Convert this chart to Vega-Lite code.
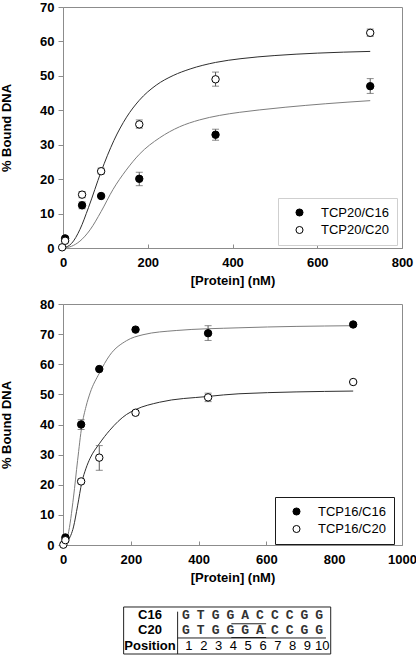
{
  "$schema": "https://vega.github.io/schema/vega-lite/v6.json",
  "padding": {"left": 0, "top": 0, "right": 0, "bottom": 0},
  "spacing": 9,
  "config": {
    "font": "Liberation Sans",
    "view": {"stroke": "#8c8c8c", "strokeWidth": 1},
    "axis": {
      "grid": false,
      "domainColor": "#8c8c8c",
      "tickColor": "#8c8c8c",
      "labelFont": "Liberation Sans",
      "labelFontSize": 13,
      "labelFontWeight": "bold",
      "labelColor": "#000000",
      "titleFont": "Liberation Sans",
      "titleFontSize": 13,
      "titleFontWeight": "bold",
      "titleColor": "#000000",
      "labelFlush": false,
      "labelOverlap": false
    },
    "axisX": {"tickSize": -4, "labelPadding": 12, "titlePadding": 5},
    "axisY": {"tickSize": 5, "labelPadding": 4, "titlePadding": 26},
    "legend": {
      "padding": 8,
      "symbolType": "circle",
      "symbolSize": 50,
      "symbolStrokeColor": "#000000",
      "symbolStrokeWidth": 1,
      "symbolOffset": 7,
      "labelOffset": 15,
      "rowPadding": 3.5,
      "labelFont": "Liberation Sans",
      "labelFontSize": 13,
      "labelFontWeight": "normal",
      "labelColor": "#000000",
      "fillColor": "#ffffff"
    }
  },
  "datasets": {
    "top_curves": [
      {"series": "TCP20/C20", "x": 0, "y": 0},
      {"series": "TCP20/C20", "x": 20, "y": 1.3},
      {"series": "TCP20/C20", "x": 40, "y": 5.4},
      {"series": "TCP20/C20", "x": 60, "y": 11.7},
      {"series": "TCP20/C20", "x": 90, "y": 22.2},
      {"series": "TCP20/C20", "x": 120, "y": 31.2},
      {"series": "TCP20/C20", "x": 150, "y": 38.0},
      {"series": "TCP20/C20", "x": 180, "y": 42.9},
      {"series": "TCP20/C20", "x": 220, "y": 47.3},
      {"series": "TCP20/C20", "x": 260, "y": 50.1},
      {"series": "TCP20/C20", "x": 300, "y": 52.0},
      {"series": "TCP20/C20", "x": 360, "y": 53.9},
      {"series": "TCP20/C20", "x": 420, "y": 55.0},
      {"series": "TCP20/C20", "x": 500, "y": 55.9},
      {"series": "TCP20/C20", "x": 600, "y": 56.6},
      {"series": "TCP20/C20", "x": 725, "y": 57.1},
      {"series": "TCP20/C16", "x": 0, "y": 0},
      {"series": "TCP20/C16", "x": 20, "y": 0.5},
      {"series": "TCP20/C16", "x": 40, "y": 2.0},
      {"series": "TCP20/C16", "x": 64, "y": 5.3},
      {"series": "TCP20/C16", "x": 90, "y": 10.6},
      {"series": "TCP20/C16", "x": 118, "y": 17.0},
      {"series": "TCP20/C16", "x": 149, "y": 22.6},
      {"series": "TCP20/C16", "x": 180, "y": 27.2},
      {"series": "TCP20/C16", "x": 228, "y": 32.0},
      {"series": "TCP20/C16", "x": 275, "y": 35.2},
      {"series": "TCP20/C16", "x": 322, "y": 37.2},
      {"series": "TCP20/C16", "x": 369, "y": 38.5},
      {"series": "TCP20/C16", "x": 416, "y": 39.4},
      {"series": "TCP20/C16", "x": 463, "y": 40.1},
      {"series": "TCP20/C16", "x": 526, "y": 40.9},
      {"series": "TCP20/C16", "x": 620, "y": 41.9},
      {"series": "TCP20/C16", "x": 725, "y": 42.8}
    ],
    "top_points": [
      {"series": "TCP20/C16", "x": 5, "y": 2.8},
      {"series": "TCP20/C16", "x": 45, "y": 12.4},
      {"series": "TCP20/C16", "x": 90, "y": 15.1},
      {"series": "TCP20/C16", "x": 180, "y": 20.1},
      {"series": "TCP20/C16", "x": 360, "y": 32.9},
      {"series": "TCP20/C16", "x": 725, "y": 47.0},
      {"series": "TCP20/C20", "x": -2, "y": 0.2},
      {"series": "TCP20/C20", "x": 5, "y": 2.1},
      {"series": "TCP20/C20", "x": 45, "y": 15.5},
      {"series": "TCP20/C20", "x": 90, "y": 22.3},
      {"series": "TCP20/C20", "x": 180, "y": 35.9},
      {"series": "TCP20/C20", "x": 360, "y": 49.0},
      {"series": "TCP20/C20", "x": 725, "y": 62.5}
    ],
    "top_err": [
      {"x": 45, "lo": 11.4, "hi": 13.4},
      {"x": 180, "lo": 18.1, "hi": 22.0},
      {"x": 360, "lo": 31.3, "hi": 34.5},
      {"x": 725, "lo": 44.9, "hi": 49.2},
      {"x": 45, "lo": 14.6, "hi": 16.4},
      {"x": 90, "lo": 21.5, "hi": 23.2},
      {"x": 180, "lo": 34.8, "hi": 37.2},
      {"x": 360, "lo": 47.0, "hi": 51.1},
      {"x": 725, "lo": 61.5, "hi": 63.6}
    ],
    "bottom_curves": [
      {"series": "TCP16/C16", "x": 0, "y": 0},
      {"series": "TCP16/C16", "x": 15, "y": 3.5},
      {"series": "TCP16/C16", "x": 31, "y": 15.9},
      {"series": "TCP16/C16", "x": 43, "y": 28.0},
      {"series": "TCP16/C16", "x": 55.6, "y": 39.5},
      {"series": "TCP16/C16", "x": 68, "y": 46.0},
      {"series": "TCP16/C16", "x": 80, "y": 50.5},
      {"series": "TCP16/C16", "x": 107, "y": 57.0},
      {"series": "TCP16/C16", "x": 138, "y": 63.0},
      {"series": "TCP16/C16", "x": 187, "y": 67.8},
      {"series": "TCP16/C16", "x": 236, "y": 69.8},
      {"series": "TCP16/C16", "x": 334, "y": 71.2},
      {"series": "TCP16/C16", "x": 519, "y": 72.1},
      {"series": "TCP16/C16", "x": 856, "y": 72.8},
      {"series": "TCP16/C20", "x": 0, "y": 0},
      {"series": "TCP16/C20", "x": 15, "y": 1.5},
      {"series": "TCP16/C20", "x": 31, "y": 6.0},
      {"series": "TCP16/C20", "x": 43, "y": 13.0},
      {"series": "TCP16/C20", "x": 55.6, "y": 20.8},
      {"series": "TCP16/C20", "x": 68, "y": 25.5},
      {"series": "TCP16/C20", "x": 80, "y": 28.8},
      {"series": "TCP16/C20", "x": 107, "y": 33.6},
      {"series": "TCP16/C20", "x": 138, "y": 38.1},
      {"series": "TCP16/C20", "x": 187, "y": 43.3},
      {"series": "TCP16/C20", "x": 215, "y": 45.0},
      {"series": "TCP16/C20", "x": 285, "y": 47.4},
      {"series": "TCP16/C20", "x": 427, "y": 49.3},
      {"series": "TCP16/C20", "x": 519, "y": 50.2},
      {"series": "TCP16/C20", "x": 856, "y": 51.1}
    ],
    "bottom_points": [
      {"series": "TCP16/C16", "x": 7, "y": 2.5},
      {"series": "TCP16/C16", "x": 53.5, "y": 40.0},
      {"series": "TCP16/C16", "x": 107, "y": 58.4},
      {"series": "TCP16/C16", "x": 214, "y": 71.5},
      {"series": "TCP16/C16", "x": 428, "y": 70.3},
      {"series": "TCP16/C16", "x": 856, "y": 73.2},
      {"series": "TCP16/C20", "x": 1, "y": 0.1},
      {"series": "TCP16/C20", "x": 7, "y": 1.6},
      {"series": "TCP16/C20", "x": 53.5, "y": 21.1},
      {"series": "TCP16/C20", "x": 107, "y": 29.0},
      {"series": "TCP16/C20", "x": 214, "y": 43.9},
      {"series": "TCP16/C20", "x": 428, "y": 49.0},
      {"series": "TCP16/C20", "x": 856, "y": 54.1}
    ],
    "bottom_err": [
      {"x": 53.5, "lo": 38.3, "hi": 41.6},
      {"x": 428, "lo": 67.9, "hi": 72.8},
      {"x": 856, "lo": 72.7, "hi": 73.6},
      {"x": 53.5, "lo": 20.3, "hi": 21.8},
      {"x": 107, "lo": 24.8, "hi": 33.0},
      {"x": 214, "lo": 43.2, "hi": 44.6},
      {"x": 428, "lo": 47.6, "hi": 50.4}
    ],
    "table_lines": [
      {"c1": -3.41, "c2": 10.57, "r1": 0.45, "r2": 0.45},
      {"c1": -3.41, "c2": 10.57, "r1": 3.56, "r2": 3.56},
      {"c1": -3.41, "c2": -3.41, "r1": 0.45, "r2": 3.56},
      {"c1": 10.57, "c2": 10.57, "r1": 0.45, "r2": 3.56},
      {"c1": 0.235, "c2": 0.235, "r1": 0.76, "r2": 3.56},
      {"c1": 0.235, "c2": 10.25, "r1": 2.5, "r2": 2.5},
      {"c1": 3.86, "c2": 6.21, "r1": 1.56, "r2": 1.56},
      {"c1": 3.86, "c2": 6.21, "r1": 2.47, "r2": 2.47}
    ],
    "table_heads": [
      {"col": -1.63, "row": 1, "label": "C16"},
      {"col": -1.63, "row": 2, "label": "C20"},
      {"col": -1.63, "row": 3, "label": "Position"}
    ],
    "table_seq": [
      {"col": 1, "row": 1, "label": "G"},
      {"col": 2, "row": 1, "label": "T"},
      {"col": 3, "row": 1, "label": "G"},
      {"col": 4, "row": 1, "label": "G"},
      {"col": 5, "row": 1, "label": "A"},
      {"col": 6, "row": 1, "label": "C"},
      {"col": 7, "row": 1, "label": "C"},
      {"col": 8, "row": 1, "label": "C"},
      {"col": 9, "row": 1, "label": "G"},
      {"col": 10, "row": 1, "label": "G"},
      {"col": 1, "row": 2, "label": "G"},
      {"col": 2, "row": 2, "label": "T"},
      {"col": 3, "row": 2, "label": "G"},
      {"col": 4, "row": 2, "label": "G"},
      {"col": 5, "row": 2, "label": "G"},
      {"col": 6, "row": 2, "label": "A"},
      {"col": 7, "row": 2, "label": "C"},
      {"col": 8, "row": 2, "label": "C"},
      {"col": 9, "row": 2, "label": "G"},
      {"col": 10, "row": 2, "label": "G"}
    ],
    "table_nums": [
      {"col": 1, "row": 3, "label": "1"},
      {"col": 2, "row": 3, "label": "2"},
      {"col": 3, "row": 3, "label": "3"},
      {"col": 4, "row": 3, "label": "4"},
      {"col": 5, "row": 3, "label": "5"},
      {"col": 6, "row": 3, "label": "6"},
      {"col": 7, "row": 3, "label": "7"},
      {"col": 8, "row": 3, "label": "8"},
      {"col": 9, "row": 3, "label": "9"},
      {"col": 10, "row": 3, "label": "10"}
    ]
  },
  "resolve": {
    "scale": {"x": "independent", "y": "independent", "fill": "independent"},
    "legend": {"fill": "independent"}
  },
  "vconcat": [
    {
      "width": 339,
      "height": 241,
      "layer": [
        {
          "data": {"name": "top_curves"},
          "transform": [{"filter": "datum.series == 'TCP20/C20'"}],
          "mark": {"type": "line", "strokeWidth": 1, "interpolate": "monotone", "color": "#2e2e2e"},
          "encoding": {
            "x": {"field": "x", "type": "quantitative", "scale": {"domain": [0, 800], "nice": false}, "axis": {"values": [0, 200, 400, 600, 800], "format": "d", "title": "[Protein] (nM)", "labelOverlap": false}},
            "y": {"field": "y", "type": "quantitative", "scale": {"domain": [0, 70], "nice": false}, "axis": {"values": [0, 10, 20, 30, 40, 50, 60, 70], "format": "d", "title": "% Bound DNA", "labelOverlap": false}}
          }
        },
        {
          "data": {"name": "top_curves"},
          "transform": [{"filter": "datum.series == 'TCP20/C16'"}],
          "mark": {"type": "line", "strokeWidth": 1, "interpolate": "monotone", "color": "#7d7d7d"},
          "encoding": {
            "x": {"field": "x", "type": "quantitative", "scale": {"domain": [0, 800], "nice": false}, "axis": {"values": [0, 200, 400, 600, 800], "format": "d", "title": "[Protein] (nM)", "labelOverlap": false}},
            "y": {"field": "y", "type": "quantitative", "scale": {"domain": [0, 70], "nice": false}, "axis": {"values": [0, 10, 20, 30, 40, 50, 60, 70], "format": "d", "title": "% Bound DNA", "labelOverlap": false}}
          }
        },
        {
          "data": {"name": "top_err"},
          "mark": {"type": "rule", "color": "#5a5a5a", "strokeWidth": 1},
          "encoding": {
            "x": {"field": "x", "type": "quantitative", "scale": {"domain": [0, 800], "nice": false}, "axis": {"values": [0, 200, 400, 600, 800], "format": "d", "title": "[Protein] (nM)", "labelOverlap": false}},
            "y": {"field": "lo", "type": "quantitative", "scale": {"domain": [0, 70], "nice": false}, "axis": {"values": [0, 10, 20, 30, 40, 50, 60, 70], "format": "d", "title": "% Bound DNA", "labelOverlap": false}},
            "y2": {"field": "hi"}
          }
        },
        {
          "data": {"name": "top_err"},
          "transform": [{"fold": ["lo", "hi"], "as": ["end", "cap"]}],
          "mark": {"type": "tick", "orient": "horizontal", "color": "#5a5a5a", "size": 7, "thickness": 1},
          "encoding": {
            "x": {"field": "x", "type": "quantitative", "scale": {"domain": [0, 800], "nice": false}, "axis": {"values": [0, 200, 400, 600, 800], "format": "d", "title": "[Protein] (nM)", "labelOverlap": false}},
            "y": {"field": "cap", "type": "quantitative", "scale": {"domain": [0, 70], "nice": false}, "axis": {"values": [0, 10, 20, 30, 40, 50, 60, 70], "format": "d", "title": "% Bound DNA", "labelOverlap": false}}
          }
        },
        {
          "data": {"name": "top_points"},
          "mark": {"type": "point", "shape": "circle", "filled": true, "size": 55, "stroke": "#000000", "strokeWidth": 1, "opacity": 1},
          "encoding": {
            "x": {"field": "x", "type": "quantitative", "scale": {"domain": [0, 800], "nice": false}, "axis": {"values": [0, 200, 400, 600, 800], "format": "d", "title": "[Protein] (nM)", "labelOverlap": false}},
            "y": {"field": "y", "type": "quantitative", "scale": {"domain": [0, 70], "nice": false}, "axis": {"values": [0, 10, 20, 30, 40, 50, 60, 70], "format": "d", "title": "% Bound DNA", "labelOverlap": false}},
            "fill": {
              "field": "series", "type": "nominal",
              "scale": {"domain": ["TCP20/C16", "TCP20/C20"], "range": ["#000000", "#ffffff"]},
              "legend": {"title": null, "orient": "none", "legendX": 215, "legendY": 191, "strokeColor": "#cfcfcf"}
            }
          }
        }
      ]
    },
    {
      "width": 339,
      "height": 241,
      "layer": [
        {
          "data": {"name": "bottom_curves"},
          "transform": [{"filter": "datum.series == 'TCP16/C16'"}],
          "mark": {"type": "line", "strokeWidth": 1, "interpolate": "monotone", "color": "#7d7d7d"},
          "encoding": {
            "x": {"field": "x", "type": "quantitative", "scale": {"domain": [0, 1000], "nice": false}, "axis": {"values": [0, 200, 400, 600, 800, 1000], "format": "d", "title": "[Protein] (nM)", "labelOverlap": false}},
            "y": {"field": "y", "type": "quantitative", "scale": {"domain": [0, 80], "nice": false}, "axis": {"values": [0, 10, 20, 30, 40, 50, 60, 70, 80], "format": "d", "title": "% Bound DNA", "labelOverlap": false}}
          }
        },
        {
          "data": {"name": "bottom_curves"},
          "transform": [{"filter": "datum.series == 'TCP16/C20'"}],
          "mark": {"type": "line", "strokeWidth": 1, "interpolate": "monotone", "color": "#2e2e2e"},
          "encoding": {
            "x": {"field": "x", "type": "quantitative", "scale": {"domain": [0, 1000], "nice": false}, "axis": {"values": [0, 200, 400, 600, 800, 1000], "format": "d", "title": "[Protein] (nM)", "labelOverlap": false}},
            "y": {"field": "y", "type": "quantitative", "scale": {"domain": [0, 80], "nice": false}, "axis": {"values": [0, 10, 20, 30, 40, 50, 60, 70, 80], "format": "d", "title": "% Bound DNA", "labelOverlap": false}}
          }
        },
        {
          "data": {"name": "bottom_err"},
          "mark": {"type": "rule", "color": "#5a5a5a", "strokeWidth": 1},
          "encoding": {
            "x": {"field": "x", "type": "quantitative", "scale": {"domain": [0, 1000], "nice": false}, "axis": {"values": [0, 200, 400, 600, 800, 1000], "format": "d", "title": "[Protein] (nM)", "labelOverlap": false}},
            "y": {"field": "lo", "type": "quantitative", "scale": {"domain": [0, 80], "nice": false}, "axis": {"values": [0, 10, 20, 30, 40, 50, 60, 70, 80], "format": "d", "title": "% Bound DNA", "labelOverlap": false}},
            "y2": {"field": "hi"}
          }
        },
        {
          "data": {"name": "bottom_err"},
          "transform": [{"fold": ["lo", "hi"], "as": ["end", "cap"]}],
          "mark": {"type": "tick", "orient": "horizontal", "color": "#5a5a5a", "size": 7, "thickness": 1},
          "encoding": {
            "x": {"field": "x", "type": "quantitative", "scale": {"domain": [0, 1000], "nice": false}, "axis": {"values": [0, 200, 400, 600, 800, 1000], "format": "d", "title": "[Protein] (nM)", "labelOverlap": false}},
            "y": {"field": "cap", "type": "quantitative", "scale": {"domain": [0, 80], "nice": false}, "axis": {"values": [0, 10, 20, 30, 40, 50, 60, 70, 80], "format": "d", "title": "% Bound DNA", "labelOverlap": false}}
          }
        },
        {
          "data": {"name": "bottom_points"},
          "mark": {"type": "point", "shape": "circle", "filled": true, "size": 55, "stroke": "#000000", "strokeWidth": 1, "opacity": 1},
          "encoding": {
            "x": {"field": "x", "type": "quantitative", "scale": {"domain": [0, 1000], "nice": false}, "axis": {"values": [0, 200, 400, 600, 800, 1000], "format": "d", "title": "[Protein] (nM)", "labelOverlap": false}},
            "y": {"field": "y", "type": "quantitative", "scale": {"domain": [0, 80], "nice": false}, "axis": {"values": [0, 10, 20, 30, 40, 50, 60, 70, 80], "format": "d", "title": "% Bound DNA", "labelOverlap": false}},
            "fill": {
              "field": "series", "type": "nominal",
              "scale": {"domain": ["TCP16/C16", "TCP16/C20"], "range": ["#000000", "#ffffff"]},
              "legend": {"title": null, "orient": "none", "legendX": 212, "legendY": 193, "strokeColor": "#1a1a1a"}
            }
          }
        }
      ]
    },
    {
      "width": 339,
      "height": 60,
      "view": {"stroke": null},
      "layer": [
        {
          "data": {"name": "table_lines"},
          "mark": {"type": "rule", "color": "#222222", "strokeWidth": 1},
          "encoding": {
            "x": {"field": "c1", "type": "quantitative", "scale": {"domain": [-7.503, 15.383], "nice": false, "zero": false}, "axis": null},
            "x2": {"field": "c2"},
            "y": {"field": "r1", "type": "quantitative", "scale": {"domain": [-0.41, 3.56], "nice": false, "zero": false, "reverse": true}, "axis": null},
            "y2": {"field": "r2"}
          }
        },
        {
          "data": {"name": "table_heads"},
          "mark": {"type": "text", "font": "Liberation Sans", "fontSize": 13, "fontWeight": "bold", "align": "center", "baseline": "middle", "color": "#000000"},
          "encoding": {
            "x": {"field": "col", "type": "quantitative"},
            "y": {"field": "row", "type": "quantitative"},
            "text": {"field": "label"}
          }
        },
        {
          "data": {"name": "table_seq"},
          "mark": {"type": "text", "font": "Liberation Mono", "fontSize": 13, "fontWeight": "bold", "align": "center", "baseline": "middle", "dx": -3, "color": "#333333"},
          "encoding": {
            "x": {"field": "col", "type": "quantitative"},
            "y": {"field": "row", "type": "quantitative"},
            "text": {"field": "label"}
          }
        },
        {
          "data": {"name": "table_nums"},
          "mark": {"type": "text", "font": "Liberation Sans", "fontSize": 13, "align": "center", "baseline": "middle", "color": "#000000"},
          "encoding": {
            "x": {"field": "col", "type": "quantitative"},
            "y": {"field": "row", "type": "quantitative"},
            "text": {"field": "label"}
          }
        }
      ]
    }
  ]
}
